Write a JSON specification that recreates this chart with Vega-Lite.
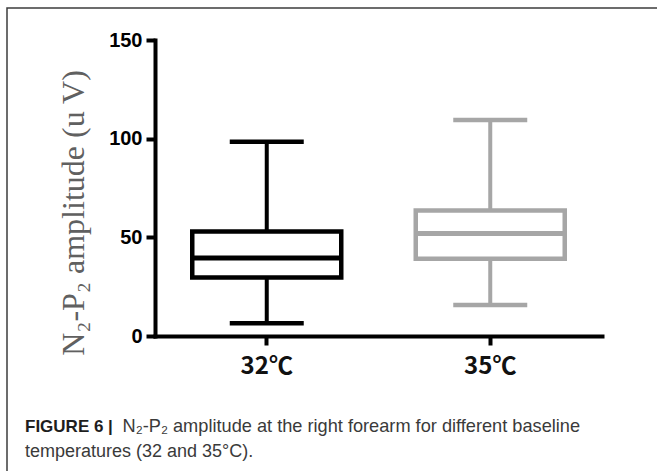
{
  "$schema": "https://vega.github.io/schema/vega-lite/v6.json",
  "width": 650,
  "height": 463,
  "autosize": {"type": "none"},
  "padding": {"left": 7, "top": 8, "right": 0, "bottom": 0},
  "background": "white",
  "config": {
    "view": {"stroke": "#3c3c3c", "strokeWidth": 1.5, "strokeDash": [650, 1113, 463]},
    "axis": {"grid": false}
  },
  "title": {
    "text": "FIGURE 6 |",
    "subtitle": "temperatures (32 and 35°C).",
    "orient": "bottom",
    "anchor": "start",
    "frame": "group",
    "offset": -39,
    "dx": 18,
    "baseline": "alphabetic",
    "font": "Liberation Sans",
    "fontSize": 17,
    "fontWeight": "bold",
    "color": "#1e1e1e",
    "subtitleFont": "Liberation Sans",
    "subtitleFontSize": 18,
    "subtitleFontWeight": "normal",
    "subtitleColor": "#3a3a3a",
    "subtitlePadding": 8
  },
  "data": {
    "values": [
      {"temp": "32℃", "min": 6.4, "q1": 29.6, "median": 39.5, "q3": 52.9, "max": 98.5},
      {"temp": "35℃", "min": 15.7, "q1": 39.2, "median": 52, "q3": 63.6, "max": 109.5}
    ]
  },
  "encoding": {
    "x": {
      "field": "temp",
      "type": "nominal",
      "sort": null,
      "scale": {"range": [148, 595], "paddingInner": 0.33, "paddingOuter": 0.165},
      "axis": {
        "orient": "bottom",
        "offset": -135,
        "domainColor": "#000000",
        "domainWidth": 4,
        "domainCap": "square",
        "tickColor": "#000000",
        "tickWidth": 4,
        "tickSize": 9,
        "labelFont": "Noto Sans CJK KR",
        "labelFontWeight": "bold",
        "labelFontSize": 24,
        "labelColor": "#111111",
        "labelAngle": 0,
        "labelBaseline": "alphabetic",
        "labelPadding": 28,
        "title": "N₂-P₂ amplitude at the right forearm for different baseline",
        "titleFont": "Liberation Sans",
        "titleFontSize": 18.2,
        "titleFontWeight": "normal",
        "titleColor": "#3a3a3a",
        "titleX": 115,
        "titleY": 95.7,
        "titleAlign": "left",
        "titleBaseline": "alphabetic",
        "titleAngle": 0
      }
    }
  },
  "layer": [
    {
      "mark": {"type": "rule", "strokeWidth": 4, "opacity": 1},
      "encoding": {
        "y": {
          "field": "min",
          "type": "quantitative",
          "scale": {"domain": [0, 150], "range": [328, 32], "nice": false, "zero": false},
          "axis": {
            "orient": "left",
            "offset": -148,
            "values": [0, 50, 100, 150],
            "domainColor": "#000000",
            "domainWidth": 4,
            "domainCap": "square",
            "tickColor": "#000000",
            "tickWidth": 4,
            "tickSize": 9,
            "labelFont": "Liberation Sans",
            "labelFontWeight": "bold",
            "labelFontSize": 20,
            "labelColor": "#000000",
            "labelPadding": 4,
            "title": "N₂-P₂ amplitude (u V)",
            "titleFont": "Liberation Serif, DejaVu Serif, serif",
            "titleFontSize": 32,
            "titleFontWeight": "normal",
            "titleColor": "#606060",
            "titleAngle": 270,
            "titleX": -82,
            "titleY": 204.5,
            "titleAlign": "center",
            "titleBaseline": "middle"
          }
        },
        "y2": {"field": "max"},
        "color": {"field": "temp", "type": "nominal", "sort": null, "scale": {"range": ["#000000", "#a6a6a6"]}, "legend": null}
      }
    },
    {
      "mark": {"type": "bar", "size": 149, "fill": "white", "strokeWidth": 4.5, "opacity": 1},
      "encoding": {
        "y": {"field": "q1", "type": "quantitative"},
        "y2": {"field": "q3"},
        "stroke": {"field": "temp", "type": "nominal", "sort": null, "scale": {"range": ["#000000", "#a6a6a6"]}, "legend": null}
      }
    },
    {
      "mark": {"type": "tick", "size": 149, "thickness": 5, "opacity": 1},
      "encoding": {
        "y": {"field": "median", "type": "quantitative"},
        "color": {"field": "temp", "type": "nominal", "sort": null, "legend": null}
      }
    },
    {
      "mark": {"type": "tick", "size": 74, "thickness": 4.5, "opacity": 1},
      "encoding": {
        "y": {"field": "min", "type": "quantitative"},
        "color": {"field": "temp", "type": "nominal", "sort": null, "legend": null}
      }
    },
    {
      "mark": {"type": "tick", "size": 74, "thickness": 4.5, "opacity": 1},
      "encoding": {
        "y": {"field": "max", "type": "quantitative"},
        "color": {"field": "temp", "type": "nominal", "sort": null, "legend": null}
      }
    }
  ]
}
